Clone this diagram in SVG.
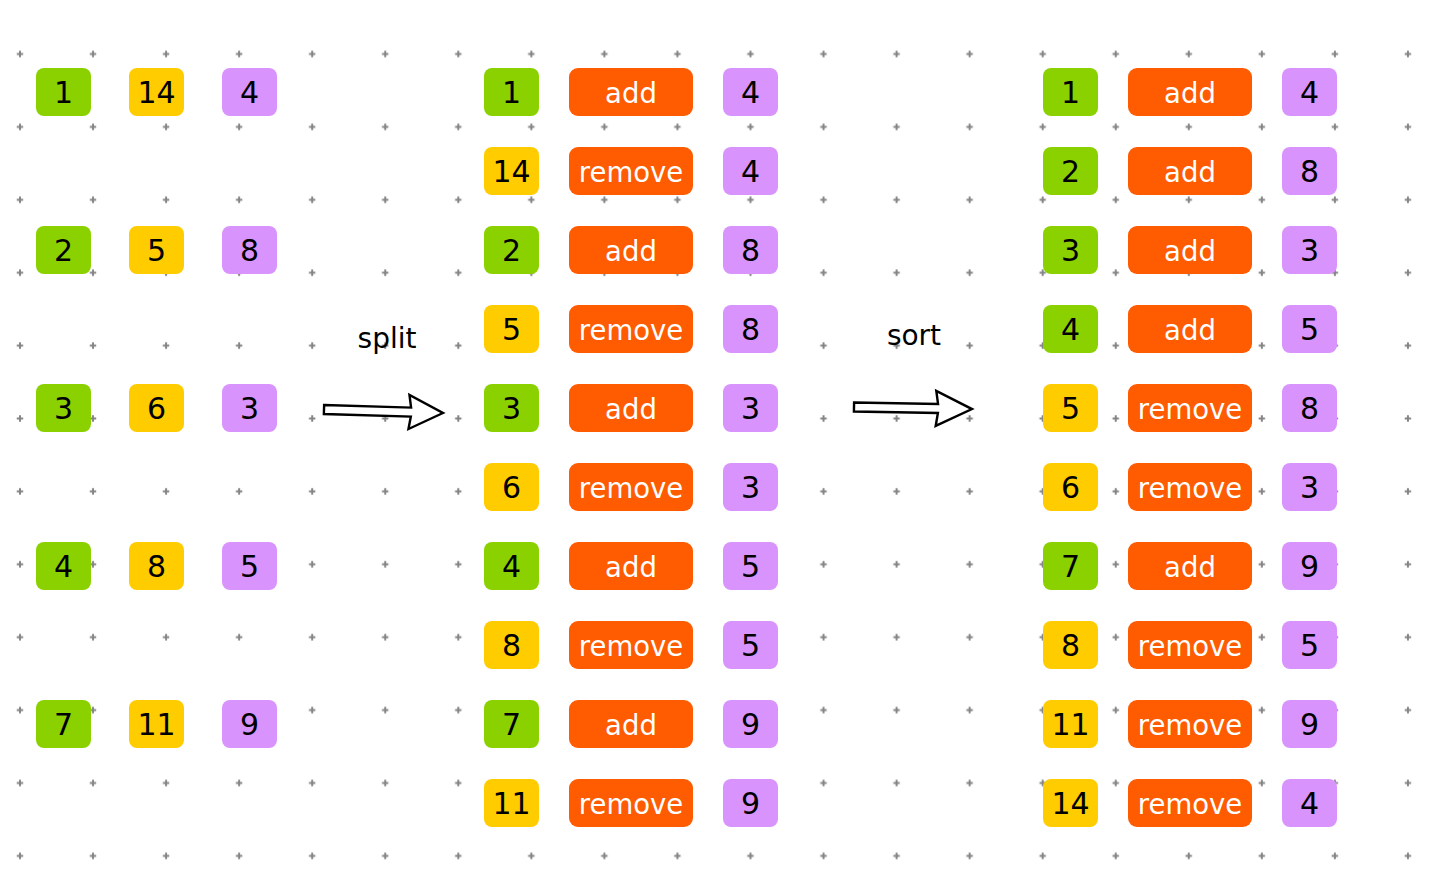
<svg xmlns="http://www.w3.org/2000/svg" width="1432" height="880" viewBox="0 0 1432 880">
<style>
.g{fill:#8bd100}.y{fill:#ffcc00}.p{fill:#d894fc}.o{fill:#ff5b00}
text{font-family:"DejaVu Sans","Liberation Sans",sans-serif;text-anchor:middle}
.n{font-size:30px;fill:#000}
.w{font-size:27.5px;fill:#fff}
.lbl{font-size:28px;fill:#000}
.arrow{fill:#fff;stroke:#000;stroke-width:2.4;stroke-linejoin:miter}
</style>
<defs>
<pattern id="grid" patternUnits="userSpaceOnUse" x="-16.525" y="17.55" width="73.05" height="72.9">
<path d="M33.3 36.45h6.4M36.525 33.25v6.4" stroke="#858585" stroke-width="2"/>
</pattern>
</defs>
<rect width="1432" height="880" fill="#fff"/>
<rect width="1432" height="880" fill="url(#grid)"/>

<!-- left column -->
<g id="l1a"><rect class="g" x="36" y="68" width="55" height="48" rx="8"/><text class="n" x="63.5" y="103">1</text></g>
<g id="l1b"><rect class="y" x="129" y="68" width="55" height="48" rx="8"/><text class="n" x="156.5" y="103">14</text></g>
<g id="l1c"><rect class="p" x="222" y="68" width="55" height="48" rx="8"/><text class="n" x="249.5" y="103">4</text></g>
<g id="l2a"><rect class="g" x="36" y="226" width="55" height="48" rx="8"/><text class="n" x="63.5" y="261">2</text></g>
<g id="l2b"><rect class="y" x="129" y="226" width="55" height="48" rx="8"/><text class="n" x="156.5" y="261">5</text></g>
<g id="l2c"><rect class="p" x="222" y="226" width="55" height="48" rx="8"/><text class="n" x="249.5" y="261">8</text></g>
<g id="l3a"><rect class="g" x="36" y="384" width="55" height="48" rx="8"/><text class="n" x="63.5" y="419">3</text></g>
<g id="l3b"><rect class="y" x="129" y="384" width="55" height="48" rx="8"/><text class="n" x="156.5" y="419">6</text></g>
<g id="l3c"><rect class="p" x="222" y="384" width="55" height="48" rx="8"/><text class="n" x="249.5" y="419">3</text></g>
<g id="l4a"><rect class="g" x="36" y="542" width="55" height="48" rx="8"/><text class="n" x="63.5" y="577">4</text></g>
<g id="l4b"><rect class="y" x="129" y="542" width="55" height="48" rx="8"/><text class="n" x="156.5" y="577">8</text></g>
<g id="l4c"><rect class="p" x="222" y="542" width="55" height="48" rx="8"/><text class="n" x="249.5" y="577">5</text></g>
<g id="l5a"><rect class="g" x="36" y="700" width="55" height="48" rx="8"/><text class="n" x="63.5" y="735">7</text></g>
<g id="l5b"><rect class="y" x="129" y="700" width="55" height="48" rx="8"/><text class="n" x="156.5" y="735">11</text></g>
<g id="l5c"><rect class="p" x="222" y="700" width="55" height="48" rx="8"/><text class="n" x="249.5" y="735">9</text></g>

<!-- middle column -->
<g id="m1a"><rect class="g" x="484" y="68" width="55" height="48" rx="8"/><text class="n" x="511.5" y="103">1</text></g>
<g id="m1b"><rect class="o" x="569" y="68" width="124" height="48" rx="9"/><text class="w" x="631" y="103">add</text></g>
<g id="m1c"><rect class="p" x="723" y="68" width="55" height="48" rx="8"/><text class="n" x="750.5" y="103">4</text></g>
<g id="m2a"><rect class="y" x="484" y="147" width="55" height="48" rx="8"/><text class="n" x="511.5" y="182">14</text></g>
<g id="m2b"><rect class="o" x="569" y="147" width="124" height="48" rx="9"/><text class="w" x="631" y="182">remove</text></g>
<g id="m2c"><rect class="p" x="723" y="147" width="55" height="48" rx="8"/><text class="n" x="750.5" y="182">4</text></g>
<g id="m3a"><rect class="g" x="484" y="226" width="55" height="48" rx="8"/><text class="n" x="511.5" y="261">2</text></g>
<g id="m3b"><rect class="o" x="569" y="226" width="124" height="48" rx="9"/><text class="w" x="631" y="261">add</text></g>
<g id="m3c"><rect class="p" x="723" y="226" width="55" height="48" rx="8"/><text class="n" x="750.5" y="261">8</text></g>
<g id="m4a"><rect class="y" x="484" y="305" width="55" height="48" rx="8"/><text class="n" x="511.5" y="340">5</text></g>
<g id="m4b"><rect class="o" x="569" y="305" width="124" height="48" rx="9"/><text class="w" x="631" y="340">remove</text></g>
<g id="m4c"><rect class="p" x="723" y="305" width="55" height="48" rx="8"/><text class="n" x="750.5" y="340">8</text></g>
<g id="m5a"><rect class="g" x="484" y="384" width="55" height="48" rx="8"/><text class="n" x="511.5" y="419">3</text></g>
<g id="m5b"><rect class="o" x="569" y="384" width="124" height="48" rx="9"/><text class="w" x="631" y="419">add</text></g>
<g id="m5c"><rect class="p" x="723" y="384" width="55" height="48" rx="8"/><text class="n" x="750.5" y="419">3</text></g>
<g id="m6a"><rect class="y" x="484" y="463" width="55" height="48" rx="8"/><text class="n" x="511.5" y="498">6</text></g>
<g id="m6b"><rect class="o" x="569" y="463" width="124" height="48" rx="9"/><text class="w" x="631" y="498">remove</text></g>
<g id="m6c"><rect class="p" x="723" y="463" width="55" height="48" rx="8"/><text class="n" x="750.5" y="498">3</text></g>
<g id="m7a"><rect class="g" x="484" y="542" width="55" height="48" rx="8"/><text class="n" x="511.5" y="577">4</text></g>
<g id="m7b"><rect class="o" x="569" y="542" width="124" height="48" rx="9"/><text class="w" x="631" y="577">add</text></g>
<g id="m7c"><rect class="p" x="723" y="542" width="55" height="48" rx="8"/><text class="n" x="750.5" y="577">5</text></g>
<g id="m8a"><rect class="y" x="484" y="621" width="55" height="48" rx="8"/><text class="n" x="511.5" y="656">8</text></g>
<g id="m8b"><rect class="o" x="569" y="621" width="124" height="48" rx="9"/><text class="w" x="631" y="656">remove</text></g>
<g id="m8c"><rect class="p" x="723" y="621" width="55" height="48" rx="8"/><text class="n" x="750.5" y="656">5</text></g>
<g id="m9a"><rect class="g" x="484" y="700" width="55" height="48" rx="8"/><text class="n" x="511.5" y="735">7</text></g>
<g id="m9b"><rect class="o" x="569" y="700" width="124" height="48" rx="9"/><text class="w" x="631" y="735">add</text></g>
<g id="m9c"><rect class="p" x="723" y="700" width="55" height="48" rx="8"/><text class="n" x="750.5" y="735">9</text></g>
<g id="m10a"><rect class="y" x="484" y="779" width="55" height="48" rx="8"/><text class="n" x="511.5" y="814">11</text></g>
<g id="m10b"><rect class="o" x="569" y="779" width="124" height="48" rx="9"/><text class="w" x="631" y="814">remove</text></g>
<g id="m10c"><rect class="p" x="723" y="779" width="55" height="48" rx="8"/><text class="n" x="750.5" y="814">9</text></g>

<!-- right column -->
<g id="r1a"><rect class="g" x="1043" y="68" width="55" height="48" rx="8"/><text class="n" x="1070.5" y="103">1</text></g>
<g id="r1b"><rect class="o" x="1128" y="68" width="124" height="48" rx="9"/><text class="w" x="1190" y="103">add</text></g>
<g id="r1c"><rect class="p" x="1282" y="68" width="55" height="48" rx="8"/><text class="n" x="1309.5" y="103">4</text></g>
<g id="r2a"><rect class="g" x="1043" y="147" width="55" height="48" rx="8"/><text class="n" x="1070.5" y="182">2</text></g>
<g id="r2b"><rect class="o" x="1128" y="147" width="124" height="48" rx="9"/><text class="w" x="1190" y="182">add</text></g>
<g id="r2c"><rect class="p" x="1282" y="147" width="55" height="48" rx="8"/><text class="n" x="1309.5" y="182">8</text></g>
<g id="r3a"><rect class="g" x="1043" y="226" width="55" height="48" rx="8"/><text class="n" x="1070.5" y="261">3</text></g>
<g id="r3b"><rect class="o" x="1128" y="226" width="124" height="48" rx="9"/><text class="w" x="1190" y="261">add</text></g>
<g id="r3c"><rect class="p" x="1282" y="226" width="55" height="48" rx="8"/><text class="n" x="1309.5" y="261">3</text></g>
<g id="r4a"><rect class="g" x="1043" y="305" width="55" height="48" rx="8"/><text class="n" x="1070.5" y="340">4</text></g>
<g id="r4b"><rect class="o" x="1128" y="305" width="124" height="48" rx="9"/><text class="w" x="1190" y="340">add</text></g>
<g id="r4c"><rect class="p" x="1282" y="305" width="55" height="48" rx="8"/><text class="n" x="1309.5" y="340">5</text></g>
<g id="r5a"><rect class="y" x="1043" y="384" width="55" height="48" rx="8"/><text class="n" x="1070.5" y="419">5</text></g>
<g id="r5b"><rect class="o" x="1128" y="384" width="124" height="48" rx="9"/><text class="w" x="1190" y="419">remove</text></g>
<g id="r5c"><rect class="p" x="1282" y="384" width="55" height="48" rx="8"/><text class="n" x="1309.5" y="419">8</text></g>
<g id="r6a"><rect class="y" x="1043" y="463" width="55" height="48" rx="8"/><text class="n" x="1070.5" y="498">6</text></g>
<g id="r6b"><rect class="o" x="1128" y="463" width="124" height="48" rx="9"/><text class="w" x="1190" y="498">remove</text></g>
<g id="r6c"><rect class="p" x="1282" y="463" width="55" height="48" rx="8"/><text class="n" x="1309.5" y="498">3</text></g>
<g id="r7a"><rect class="g" x="1043" y="542" width="55" height="48" rx="8"/><text class="n" x="1070.5" y="577">7</text></g>
<g id="r7b"><rect class="o" x="1128" y="542" width="124" height="48" rx="9"/><text class="w" x="1190" y="577">add</text></g>
<g id="r7c"><rect class="p" x="1282" y="542" width="55" height="48" rx="8"/><text class="n" x="1309.5" y="577">9</text></g>
<g id="r8a"><rect class="y" x="1043" y="621" width="55" height="48" rx="8"/><text class="n" x="1070.5" y="656">8</text></g>
<g id="r8b"><rect class="o" x="1128" y="621" width="124" height="48" rx="9"/><text class="w" x="1190" y="656">remove</text></g>
<g id="r8c"><rect class="p" x="1282" y="621" width="55" height="48" rx="8"/><text class="n" x="1309.5" y="656">5</text></g>
<g id="r9a"><rect class="y" x="1043" y="700" width="55" height="48" rx="8"/><text class="n" x="1070.5" y="735">11</text></g>
<g id="r9b"><rect class="o" x="1128" y="700" width="124" height="48" rx="9"/><text class="w" x="1190" y="735">remove</text></g>
<g id="r9c"><rect class="p" x="1282" y="700" width="55" height="48" rx="8"/><text class="n" x="1309.5" y="735">9</text></g>
<g id="r10a"><rect class="y" x="1043" y="779" width="55" height="48" rx="8"/><text class="n" x="1070.5" y="814">14</text></g>
<g id="r10b"><rect class="o" x="1128" y="779" width="124" height="48" rx="9"/><text class="w" x="1190" y="814">remove</text></g>
<g id="r10c"><rect class="p" x="1282" y="779" width="55" height="48" rx="8"/><text class="n" x="1309.5" y="814">4</text></g>

<!-- connectors -->
<g id="connectors">
<g id="split-arrow">
<polygon class="arrow" transform="translate(324 409.5) rotate(1.7)" points="0,-4.5 87,-4.5 85,-17 119,0 85,17 87,4.5 0,4.5"/>
<text class="lbl" x="387" y="348">split</text>
</g>
<g id="sort-arrow">
<polygon class="arrow" transform="translate(854 407) rotate(1)" points="0,-4.5 84,-4.5 82,-17.5 118,0 82,17.5 84,4.5 0,4.5"/>
<text class="lbl" x="914" y="345">sort</text>
</g>
</g>
</svg>
